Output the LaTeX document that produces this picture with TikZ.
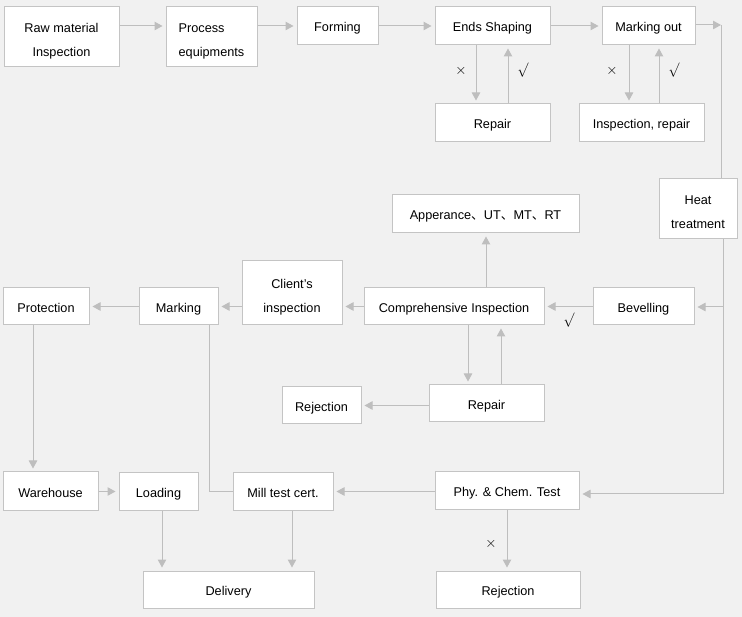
\documentclass[tikz,border=0pt]{standalone}
\usepackage{fontspec}
\setmainfont{Liberation Sans}
\newfontfamily\cjk{Noto Sans CJK SC}
\usetikzlibrary{arrows.meta,calc}
\definecolor{bgcol}{RGB}{241,241,241}
\definecolor{bordercol}{RGB}{196,196,196}
\definecolor{linecol}{RGB}{190,190,190}
\newcommand\twolines[3]{\raisebox{0.4pt}[0pt][0pt]{\begin{tabular}{@{}#1@{}}#2\\#3\end{tabular}}}
\tikzset{
  box/.style={draw=bordercol, fill=white, line width=1pt, inner sep=0pt, align=center,
    text height=12pt, text depth=0pt,
    font=\fontsize{12.7}{24}\selectfont},
  conn/.style={draw=linecol, line width=1pt},
  arr/.style={conn, -{Triangle[length=8pt,width=8.5pt]}, shorten >=3pt},
  xmk/.style={font=\fontsize{15}{15}\selectfont, inner sep=0pt},
  vmk/.style={font=\fontsize{15}{15}\selectfont, inner sep=0pt, xscale=0.9},
}
\begin{document}
\begin{tikzpicture}[x=1pt,y=-1pt]
\useasboundingbox (0,0) rectangle (742,617);
\fill[bgcol] (0,0) rectangle (742,617);

% top row
\node[box, minimum width=115pt, minimum height=60pt] (raw) at (61.5,37) {\twolines{c}{Raw material}{Inspection}};
\node[box, minimum width=91pt, minimum height=60pt] (proc) at (211.5,37) {\twolines{l}{Process}{equipments}};
\node[box, minimum width=81pt, minimum height=38pt] (form) at (337.5,26) {Forming};
\node[box, minimum width=115pt, minimum height=38pt] (ends) at (492.5,26) {Ends Shaping};
\node[box, minimum width=93pt, minimum height=38pt] (mout) at (648.5,26) {Marking out};
\node[box, minimum width=115pt, minimum height=38pt] (rep1) at (492.5,123) {Repair};
\node[box, minimum width=125pt, minimum height=38pt] (inspr) at (641.5,123) {Inspection, repair};
\node[box, minimum width=78pt, minimum height=60pt] (heat) at (698,209) {\twolines{c}{Heat}{treatment}};

% middle
\node[box, minimum width=187pt, minimum height=38pt] (app) at (485.5,214) {Apperance{\cjk 、}UT{\cjk 、}MT{\cjk 、}RT};
\node[box, minimum width=180pt, minimum height=37pt] (comp) at (454,306.5) {Comprehensive Inspection};
\node[box, minimum width=101pt, minimum height=37pt] (bev) at (643.5,306.5) {Bevelling};
\node[box, minimum width=100pt, minimum height=64pt] (client) at (292,293) {\twolines{c}{Client's}{inspection}};
\node[box, minimum width=79pt, minimum height=37pt] (mark) at (178.5,306.5) {Marking};
\node[box, minimum width=86pt, minimum height=37pt] (prot) at (46,306.5) {Protection};
\node[box, minimum width=115pt, minimum height=37pt] (rep2) at (486.5,403.5) {Repair};
\node[box, minimum width=79pt, minimum height=37pt] (rej1) at (321.5,405.5) {Rejection};

% bottom
\node[box, minimum width=144pt, minimum height=37pt] (phy) at (507,490.5) {Phy. \& Chem. Test};
\node[box, minimum width=144pt, minimum height=37pt] (rej2) at (508,589.5) {Rejection};
\node[box, minimum width=95pt, minimum height=38pt] (wh) at (50.5,491) {Warehouse};
\node[box, minimum width=79pt, minimum height=37pt] (load) at (158.5,491.5) {Loading};
\node[box, minimum width=100pt, minimum height=37pt] (mill) at (283,491.5) {Mill test cert.};
\node[box, minimum width=171pt, minimum height=37pt] (deliv) at (228.5,589.5) {Delivery};

% top row connectors
\draw[arr] (raw.east |- form) -- (proc.west |- form);
\draw[arr] (proc.east |- form) -- (form.west);
\draw[arr] (form.east) -- (ends.west);
\draw[arr] (ends.east) -- (mout.west);
\coordinate (c1) at (721,25);
\draw[arr, shorten >=0pt] (mout.east |- c1) -- (c1);
\draw[conn] (c1) -- (c1 |- heat.north);

\draw[arr] ($(ends.south)+(-16.5,0)$) coordinate (e1) -- (e1 |- rep1.north);
\draw[arr] ($(rep1.north)+(15.5,0)$) coordinate (e2) -- (e2 |- ends.south);
\draw[arr] ($(mout.south)+(-19.5,0)$) coordinate (m1) -- (m1 |- inspr.north);
\draw[arr] ($(inspr.north)+(17.5,0)$) coordinate (m2) -- (m2 |- mout.south);

% heat treatment distribution
\coordinate (c2) at (723,494);
\coordinate (c3) at (723,307);
\draw[conn] (heat.south -| c2) -- (c2);
\draw[arr] (c2) -- (phy.east |- c2);
\draw[arr] (c3) -- (bev.east |- c3);

% middle connectors
\draw[arr] (bev.west) -- (comp.east);
\draw[arr] ($(comp.north)+(32,0)$) coordinate (a1) -- (a1 |- app.south);
\draw[arr] (comp.west) -- (client.east |- comp);
\draw[arr] (client.west |- mark) -- (mark.east);
\draw[arr] (mark.west) -- (prot.east);
\draw[arr] ($(comp.south)+(14,0)$) coordinate (r1) -- (r1 |- rep2.north);
\draw[arr] ($(rep2.north)+(14.5,0)$) coordinate (r2) -- (r2 |- comp.south);
\draw[arr] (rep2.west |- rej1) -- (rej1.east);

% bottom connectors
\draw[arr] ($(prot.south)+(-13,0)$) coordinate (p1) -- (p1 |- wh.north);
\draw[conn] ($(mark.south)+(30.5,0)$) |- (mill.west);
\draw[arr] (wh.east |- load) -- (load.west);
\draw[arr] (phy.west |- mill) -- (mill.east);
\draw[arr] (phy.south) -- (phy.south |- rej2.north);
\draw[arr] ($(load.south)+(3.5,0)$) coordinate (l1) -- (l1 |- deliv.north);
\draw[arr] ($(mill.south)+(9,0)$) coordinate (l2) -- (l2 |- deliv.north);

% marks
\node[xmk] (x1) at (461,71) {$\times$};
\node[vmk] (v1) at (523,70) {$\surd$};
\node[xmk] (x2) at (612,71) {$\times$};
\node[vmk] (v2) at (674,70) {$\surd$};
\node[vmk] (v3) at (569,320) {$\surd$};
\node[xmk] (x3) at (491,544) {$\times$};
\end{tikzpicture}
\end{document}
